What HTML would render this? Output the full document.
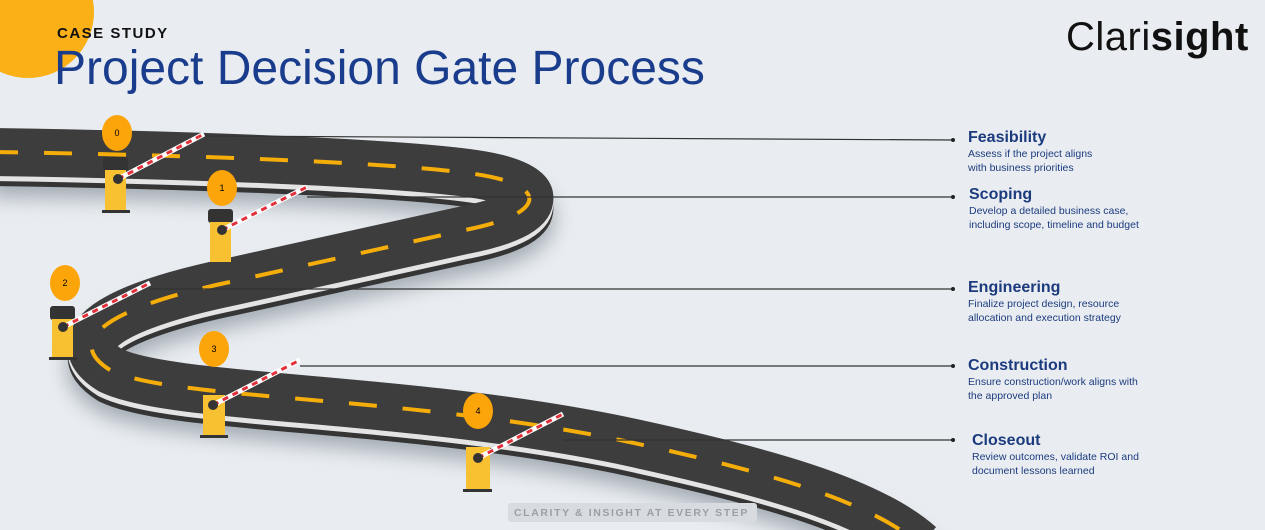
<!DOCTYPE html>
<html><head><meta charset="utf-8"><style>
html,body{margin:0;width:1265px;height:530px;overflow:hidden}
body{background:#e9edf1;font-family:"Liberation Sans",sans-serif;position:relative}
svg{display:block}
.t{position:absolute;color:#1c3b7e}
.h{font-size:16px;font-weight:bold}
.d{font-size:10.5px;line-height:14px;color:#1c3b7e}
</style></head><body>
<svg width="1265" height="530" style="position:absolute;left:0;top:0">
<defs><filter id="sh" x="-20%" y="-20%" width="140%" height="160%"><feGaussianBlur stdDeviation="10"/></filter>
<path id="r" d="M -10 152 C 200 155, 400 163, 475 174 C 550 185, 548 214, 465 230 L 230 282 C 110 307, 62 340, 110 370 C 170 400, 400 395, 620 440 C 760 470, 870 500, 920 545"/></defs>
<circle cx="28" cy="12" r="66" fill="#fbb017"/>
<g fill="none">
<use href="#r" transform="translate(0,20)" stroke="#a3abb3" stroke-width="50" filter="url(#sh)"/>
<use href="#r" transform="translate(0,10)" stroke="#353535" stroke-width="48"/>
<use href="#r" transform="translate(0,5)" stroke="#e4e4e4" stroke-width="48"/>
<use href="#r" stroke="#3d3d3d" stroke-width="48"/>
<use href="#r" stroke="#f5ad0a" stroke-width="4" stroke-dasharray="28 26"/>
</g>
<g stroke="#333" stroke-width="1.2">
<line x1="204" y1="136" x2="953" y2="140"/><line x1="307" y1="197" x2="953" y2="197"/><line x1="150" y1="289" x2="953" y2="289"/><line x1="300" y1="366" x2="953" y2="366"/><line x1="563" y1="440" x2="953" y2="440"/>
</g>
<g fill="#222"><circle cx="953" cy="140" r="2"/><circle cx="953" cy="197" r="2"/><circle cx="953" cy="289" r="2"/><circle cx="953" cy="366" r="2"/><circle cx="953" cy="440" r="2"/></g>
<g font-family="Liberation Sans" font-size="9" text-anchor="middle">
<g><ellipse cx="117" cy="133" rx="15" ry="18" fill="#fba50a"/><text x="117" y="136">0</text>
<rect x="103" y="157" width="25" height="14" rx="3" fill="#333"/><rect x="105" y="170" width="21" height="40" fill="#f7c131"/><rect x="102" y="210" width="28" height="3" fill="#333"/>
<line x1="118" y1="179" x2="204" y2="134" stroke="#fff" stroke-width="5"/><line x1="118" y1="179" x2="204" y2="134" stroke="#e2303a" stroke-width="3" stroke-dasharray="6 5"/><circle cx="118" cy="179" r="5" fill="#333"/></g>
<g><ellipse cx="222" cy="188" rx="15" ry="18" fill="#fba50a"/><text x="222" y="191">1</text>
<rect x="208" y="209" width="25" height="14" rx="3" fill="#333"/><rect x="210" y="222" width="21" height="40" fill="#f7c131"/>
<line x1="222" y1="230" x2="307" y2="187" stroke="#fff" stroke-width="5"/><line x1="222" y1="230" x2="307" y2="187" stroke="#e2303a" stroke-width="3" stroke-dasharray="6 5"/><circle cx="222" cy="230" r="5" fill="#333"/></g>
<g><ellipse cx="65" cy="283" rx="15" ry="18" fill="#fba50a"/><text x="65" y="286">2</text>
<rect x="50" y="306" width="25" height="14" rx="3" fill="#333"/><rect x="52" y="319" width="21" height="38" fill="#f7c131"/><rect x="49" y="357" width="28" height="3" fill="#333"/>
<line x1="63" y1="327" x2="150" y2="283" stroke="#fff" stroke-width="5"/><line x1="63" y1="327" x2="150" y2="283" stroke="#e2303a" stroke-width="3" stroke-dasharray="6 5"/><circle cx="63" cy="327" r="5" fill="#333"/></g>
<g><ellipse cx="214" cy="349" rx="15" ry="18" fill="#fba50a"/><text x="214" y="352">3</text>
<rect x="203" y="395" width="22" height="40" fill="#f7c131"/><rect x="200" y="435" width="28" height="3" fill="#333"/>
<line x1="213" y1="405" x2="300" y2="360" stroke="#fff" stroke-width="5"/><line x1="213" y1="405" x2="300" y2="360" stroke="#e2303a" stroke-width="3" stroke-dasharray="6 5"/><circle cx="213" cy="405" r="5" fill="#333"/></g>
<g><ellipse cx="478" cy="411" rx="15" ry="18" fill="#fba50a"/><text x="478" y="414">4</text>
<rect x="466" y="447" width="24" height="42" fill="#f7c131"/><rect x="463" y="489" width="29" height="3" fill="#333"/>
<line x1="478" y1="458" x2="563" y2="414" stroke="#fff" stroke-width="5"/><line x1="478" y1="458" x2="563" y2="414" stroke="#e2303a" stroke-width="3" stroke-dasharray="6 5"/><circle cx="478" cy="458" r="5" fill="#333"/></g>
</g>
<rect x="508" y="503" width="249" height="19" rx="3" fill="#d8dce0"/>
</svg>
<div class="t" style="left:57px;top:25px;font-size:15px;font-weight:bold;letter-spacing:1.5px;color:#111">CASE STUDY</div>
<div class="t" style="left:54px;top:41px;font-size:48px;line-height:56px;color:#1a3c8c;white-space:nowrap">Project Decision Gate Process</div>
<div class="t" style="left:1066px;top:14px;font-size:40px;line-height:46px;color:#111;letter-spacing:0.5px">Clari<b>sight</b></div>
<div class="t" style="left:968px;top:129px"><div class="h">Feasibility</div><div class="d">Assess if the project aligns<br>with business priorities</div></div>
<div class="t" style="left:969px;top:186px"><div class="h">Scoping</div><div class="d">Develop a detailed business case,<br>including scope, timeline and budget</div></div>
<div class="t" style="left:968px;top:279px"><div class="h">Engineering</div><div class="d">Finalize project design, resource<br>allocation and execution strategy</div></div>
<div class="t" style="left:968px;top:357px"><div class="h">Construction</div><div class="d">Ensure construction/work aligns with<br>the approved plan</div></div>
<div class="t" style="left:972px;top:432px"><div class="h">Closeout</div><div class="d">Review outcomes, validate ROI and<br>document lessons learned</div></div>
<div class="t" style="left:514px;top:507px;font-size:10.5px;font-weight:bold;letter-spacing:1.6px;color:#9aa0a6">CLARITY &amp; INSIGHT AT EVERY STEP</div>
</body></html>
